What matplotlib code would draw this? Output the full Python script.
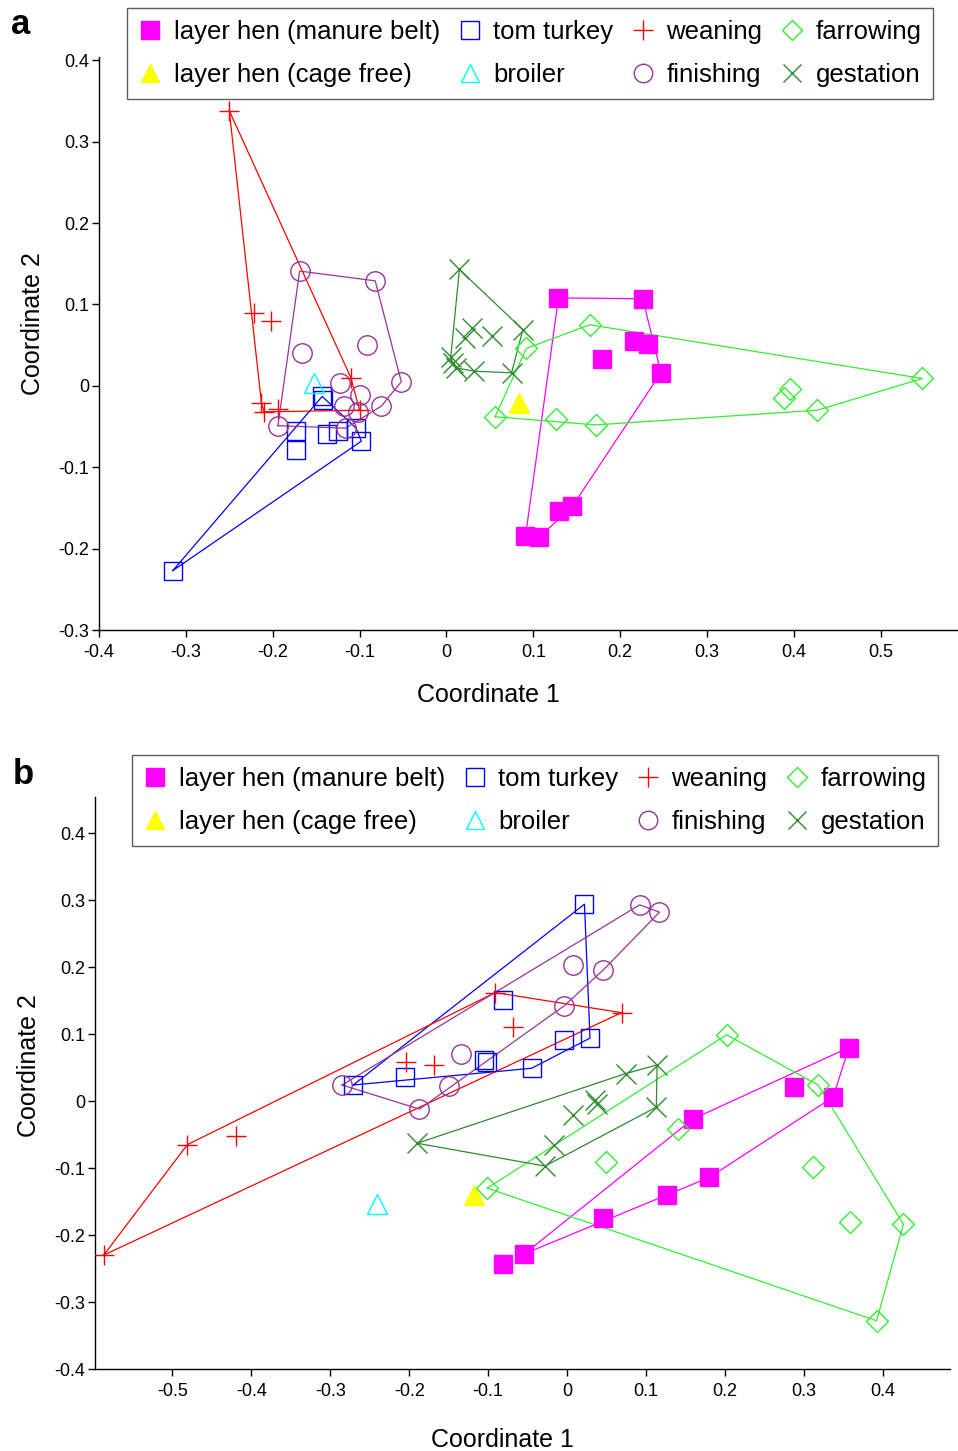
import matplotlib
matplotlib.use("Agg")
import matplotlib.pyplot as plt
from matplotlib.lines import Line2D
from matplotlib import font_manager

# ---------------- data: panel a ----------------
manure_a_x = [0.129, 0.226, 0.216, 0.232, 0.179, 0.247, 0.145, 0.130, 0.091, 0.107]
manure_a_y = [0.108, 0.107, 0.055, 0.052, 0.033, 0.016, -0.148, -0.154, -0.185, -0.186]
cagefree_a_x = [0.084]
cagefree_a_y = [-0.021]
turkey_a_x = [-0.143, -0.142, -0.173, -0.173, -0.137, -0.125, -0.104, -0.098, -0.315]
turkey_a_y = [-0.013, -0.017, -0.056, -0.079, -0.059, -0.056, -0.052, -0.068, -0.227]
broiler_a_x = [-0.152]
broiler_a_y = [0.003]
weaning_a_x = [-0.250, -0.222, -0.202, -0.110, -0.213, -0.194, -0.100, -0.210]
weaning_a_y = [0.338, 0.090, 0.080, 0.010, -0.021, -0.028, -0.030, -0.032]
finishing_a_x = [-0.169, -0.082, -0.166, -0.091, -0.052, -0.123, -0.100, -0.075, -0.118, -0.102, -0.194, -0.116]
finishing_a_y = [0.141, 0.129, 0.040, 0.050, 0.005, 0.004, -0.011, -0.025, -0.025, -0.032, -0.049, -0.052]
farrowing_a_x = [0.092, 0.165, 0.548, 0.395, 0.389, 0.427, 0.056, 0.126, 0.172]
farrowing_a_y = [0.046, 0.075, 0.009, -0.004, -0.015, -0.030, -0.038, -0.041, -0.048]
gestation_a_x = [0.015, 0.088, 0.030, 0.021, 0.052, 0.005, 0.011, 0.032, 0.075, 0.007]
gestation_a_y = [0.143, 0.069, 0.071, 0.059, 0.061, 0.036, 0.022, 0.018, 0.016, 0.028]

# ---------------- data: panel b ----------------
manure_b_x = [0.357, 0.287, 0.337, 0.159, 0.180, 0.126, 0.046, -0.054, -0.081]
manure_b_y = [0.080, 0.021, 0.006, -0.027, -0.114, -0.140, -0.174, -0.228, -0.243]
manure_b_outside_hull = [8]
cagefree_b_x = [-0.118]
cagefree_b_y = [-0.140]
turkey_b_x = [0.022, -0.081, 0.029, -0.004, -0.102, -0.105, -0.045, -0.205, -0.271]
turkey_b_y = [0.294, 0.151, 0.094, 0.091, 0.059, 0.061, 0.049, 0.036, 0.024]
broiler_b_x = [-0.241]
broiler_b_y = [-0.153]
weaning_b_x = [-0.587, -0.481, -0.419, -0.091, 0.069, -0.069, -0.204, -0.168]
weaning_b_y = [-0.230, -0.065, -0.052, 0.162, 0.132, 0.111, 0.059, 0.054]
finishing_b_x = [0.092, 0.117, 0.007, 0.046, -0.004, -0.134, -0.149, -0.187, -0.285]
finishing_b_y = [0.293, 0.282, 0.203, 0.196, 0.142, 0.070, 0.023, -0.012, 0.024]
farrowing_b_x = [-0.101, 0.049, 0.140, 0.202, 0.318, 0.312, 0.358, 0.426, 0.392]
farrowing_b_y = [-0.130, -0.091, -0.042, 0.099, 0.024, -0.098, -0.180, -0.184, -0.328]
gestation_b_x = [-0.190, 0.074, 0.114, 0.113, -0.028, -0.017, 0.008, 0.035, 0.038]
gestation_b_y = [-0.063, 0.041, 0.054, -0.009, -0.097, -0.066, -0.021, 0.002, -0.005]

group_labels = ["layer hen (manure belt)", "layer hen (cage free)", "tom turkey", "broiler",
                "weaning", "finishing", "farrowing", "gestation"]

xticks_a = [-0.4, -0.3, -0.2, -0.1, 0, 0.1, 0.2, 0.3, 0.4, 0.5]
yticks_a = [-0.3, -0.2, -0.1, 0, 0.1, 0.2, 0.3, 0.4]
xticks_b = [-0.5, -0.4, -0.3, -0.2, -0.1, 0, 0.1, 0.2, 0.3, 0.4]
yticks_b = [-0.4, -0.3, -0.2, -0.1, 0, 0.1, 0.2, 0.3, 0.4]

# ---------------- styles ----------------
MAGENTA = "#FF00FF"
YELLOW = "#FFFF00"
BLUE = "#0000FF"
CYAN = "#00FFFF"
RED = "#FF0000"
PURPLE = "#993399"
LIME = "#33EE33"
DKGREEN = "#2E8B2E"

styles = {
    "layer hen (manure belt)": dict(marker="s", color=MAGENTA, mfc=MAGENTA, ms=13),
    "layer hen (cage free)": dict(marker="^", color=YELLOW, mfc=YELLOW, ms=14),
    "tom turkey": dict(marker="s", color=BLUE, mfc="none", ms=13),
    "broiler": dict(marker="^", color=CYAN, mfc="none", ms=14),
    "weaning": dict(marker="+", color=RED, mfc="none", ms=15),
    "finishing": dict(marker="o", color=PURPLE, mfc="none", ms=14),
    "farrowing": dict(marker="D", color=LIME, mfc="none", ms=11),
    "gestation": dict(marker="x", color=DKGREEN, mfc="none", ms=14),
}

available = {f.name for f in font_manager.fontManager.ttflist}
sans = "Liberation Sans" if "Liberation Sans" in available else "DejaVu Sans"
narrow = "Liberation Sans Narrow" if "Liberation Sans Narrow" in available else sans
plt.rcParams["font.family"] = [sans, "DejaVu Sans"]


def convex_hull(xs, ys, skip=()):
    pts = sorted({(x, y) for i, (x, y) in enumerate(zip(xs, ys)) if i not in skip})
    if len(pts) < 3:
        return pts

    def cross(o, a, b):
        return (a[0] - o[0]) * (b[1] - o[1]) - (a[1] - o[1]) * (b[0] - o[0])

    lower, upper = [], []
    for p in pts:
        while len(lower) >= 2 and cross(lower[-2], lower[-1], p) <= 0:
            lower.pop()
        lower.append(p)
    for p in reversed(pts):
        while len(upper) >= 2 and cross(upper[-2], upper[-1], p) <= 0:
            upper.pop()
        upper.append(p)
    return lower[:-1] + upper[:-1]


def draw_group(ax, label, xs, ys, skip=(), hull=True):
    st = styles[label]
    if hull and len(xs) >= 3:
        h = convex_hull(xs, ys, skip)
        hx = [p[0] for p in h] + [h[0][0]]
        hy = [p[1] for p in h] + [h[0][1]]
        ax.plot(hx, hy, color=st["color"], lw=0.9, zorder=2)
    ax.plot(xs, ys, linestyle="none", marker=st["marker"], color=st["color"],
            markerfacecolor=st["mfc"], markeredgecolor=st["color"],
            markersize=st["ms"], markeredgewidth=1.0, zorder=3)


def style_axes(ax, xlim, ylim, xticks, yticks, xlabel_x, ylabel_y, xpad):
    ax.set_xlim(*xlim)
    ax.set_ylim(*ylim)
    for s in ("top", "right"):
        ax.spines[s].set_visible(False)
    for s in ("left", "bottom"):
        ax.spines[s].set_linewidth(1.0)
    ax.set_xticks(xticks)
    ax.set_yticks(yticks)
    ax.set_xticklabels([("%g" % t) for t in xticks], family=[narrow, sans], fontsize=13)
    ax.set_yticklabels([("%g" % t) for t in yticks], family=[narrow, sans], fontsize=13)
    ax.tick_params(axis="x", direction="out", length=5, width=1, pad=5)
    ax.tick_params(axis="y", direction="out", length=5, width=1, pad=2)
    ax.set_xlabel("Coordinate 1", fontsize=18, labelpad=xpad)
    ax.set_ylabel("Coordinate 2", fontsize=18, labelpad=10)
    ax.xaxis.label.set_x(xlabel_x)
    ax.yaxis.label.set_y(ylabel_y)


def add_legend(fig, left_px, top_px):
    handles = []
    for lab in group_labels:
        st = styles[lab]
        handles.append(Line2D([], [], linestyle="none", marker=st["marker"], color=st["color"],
                              markerfacecolor=st["mfc"], markeredgecolor=st["color"],
                              markersize=st["ms"] * 0.95, markeredgewidth=1.0, label=lab))
    leg = fig.legend(handles=handles, ncol=4, loc="upper left",
                     bbox_to_anchor=(left_px / W, 1 - top_px / H),
                     frameon=True, fancybox=False, fontsize=18.5, borderaxespad=0,
                     handlelength=0.9, handletextpad=0.45, columnspacing=0.72,
                     labelspacing=0.75, borderpad=0.46)
    fr = leg.get_frame()
    fr.set_edgecolor("#333333")
    fr.set_linewidth(1.0)
    return leg


W, H = 958, 1451
fig = plt.figure(figsize=(W / 100, H / 100), dpi=100)

# panel a
ax_a = fig.add_axes([99 / W, 1 - 630 / H, (958 - 99) / W, (630 - 57) / H])
data_a = [
    (manure_a_x, manure_a_y), (cagefree_a_x, cagefree_a_y), (turkey_a_x, turkey_a_y),
    (broiler_a_x, broiler_a_y), (weaning_a_x, weaning_a_y), (finishing_a_x, finishing_a_y),
    (farrowing_a_x, farrowing_a_y), (gestation_a_x, gestation_a_y),
]
for lab, (xs, ys) in zip(group_labels, data_a):
    draw_group(ax_a, lab, xs, ys)
style_axes(ax_a, (-0.4, 0.589), (-0.3, 0.404), xticks_a, yticks_a, 0.453, 0.534, 16)
add_legend(fig, 127, 8)
fig.text(11 / W, 1 - 34 / H, "a", fontsize=25, fontweight="bold", family=[sans])

# panel b
ax_b = fig.add_axes([95 / W, 1 - 1369 / H, (950 - 95) / W, (1369 - 797) / H])
data_b = [
    (manure_b_x, manure_b_y), (cagefree_b_x, cagefree_b_y), (turkey_b_x, turkey_b_y),
    (broiler_b_x, broiler_b_y), (weaning_b_x, weaning_b_y), (finishing_b_x, finishing_b_y),
    (farrowing_b_x, farrowing_b_y), (gestation_b_x, gestation_b_y),
]
for lab, (xs, ys) in zip(group_labels, data_b):
    skip = manure_b_outside_hull if lab == "layer hen (manure belt)" else ()
    draw_group(ax_b, lab, xs, ys, skip=skip)
style_axes(ax_b, (-0.598, 0.485), (-0.4, 0.454), xticks_b, yticks_b, 0.476, 0.531, 20)
add_legend(fig, 132, 755)
fig.text(13 / W, 1 - 784 / H, "b", fontsize=25, fontweight="bold", family=[sans])

fig.savefig("out.png", dpi=100)
